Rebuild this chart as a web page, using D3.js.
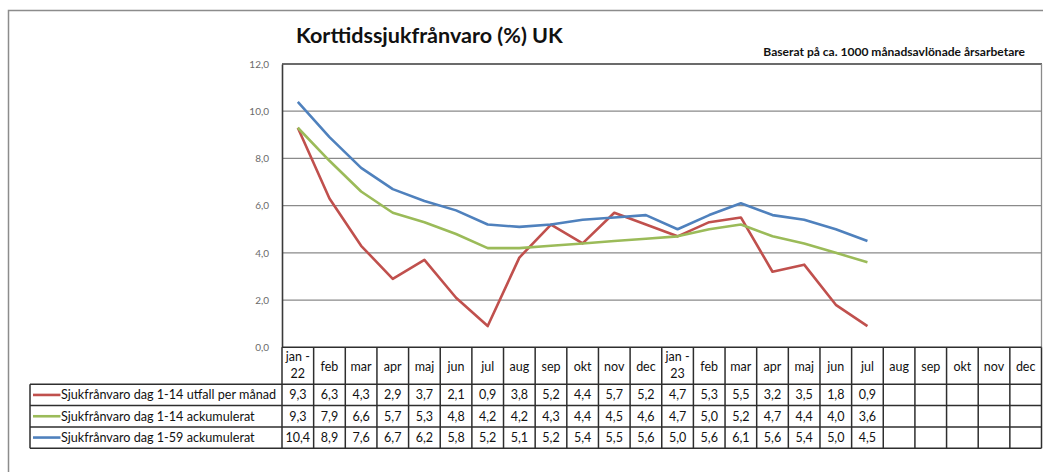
<!DOCTYPE html>
<html>
<head>
<meta charset="utf-8">
<script src="https://cdn.jsdelivr.net/npm/d3@7"></script>
<style>
  html, body { margin: 0; padding: 0; background: #fff; }
  svg { display: block; font-family: Lato, "Open Sans", sans-serif; }
</style>
</head>
<body>
<svg id="chart" width="1043" height="472"></svg>
<script>
// Months shown along the x axis (two rows of text for the year starts)
const months = ["jan -\n22","feb","mar","apr","maj","jun","jul","aug","sep","okt","nov","dec",
                "jan -\n23","feb","mar","apr","maj","jun","jul","aug","sep","okt","nov","dec"];

// Series values (%); null = not yet reported
const utfallPerManad = [9.3,6.3,4.3,2.9,3.7,2.1,0.9,3.8,5.2,4.4,5.7,5.2,4.7,5.3,5.5,3.2,3.5,1.8,0.9,null,null,null,null,null];
const ack114 = [9.3,7.9,6.6,5.7,5.3,4.8,4.2,4.2,4.3,4.4,4.5,4.6,4.7,5.0,5.2,4.7,4.4,4.0,3.6,null,null,null,null,null];
const ack159 = [10.4,8.9,7.6,6.7,6.2,5.8,5.2,5.1,5.2,5.4,5.5,5.6,5.0,5.6,6.1,5.6,5.4,5.0,4.5,null,null,null,null,null];

const seriesNames = ["Sjukfrånvaro dag 1-14 utfall per månad","Sjukfrånvaro dag 1-14 ackumulerat","Sjukfrånvaro dag 1-59 ackumulerat"];
const seriesColors = ["#C0504D","#9BBB59","#4F81BD"];
const yTicks = [0,2,4,6,8,10,12];

const titleText = "Korttidssjukfrånvaro (%) UK";
const subtitleText = "Baserat på ca. 1000 månadsavlönade årsarbetare";

const series = [utfallPerManad, ack114, ack159].map((v, i) => ({ name: seriesNames[i], color: seriesColors[i], values: v }));

const svg = d3.select("#chart");

// layout
const plotLeft = 282, plotRight = 1041.5, plotTop = 64, plotBottom = 347.3;
const legendLeft = 30;
const headerBottom = 384.3;
const rowH = 21.3;

const x = d3.scaleBand().domain(d3.range(months.length)).range([plotLeft, plotRight]).padding(0);
const y = d3.scaleLinear().domain([0, 12]).range([plotBottom, plotTop]);

// helper: scale a text element's font size so that it spans a given width
function fitWidth(sel, target) {
  const node = sel.node();
  const w = node.getComputedTextLength();
  const fs = parseFloat(sel.attr("font-size"));
  sel.attr("font-size", (fs * target / w).toFixed(2));
}

// outer frame (runs past the right and bottom edges)
svg.append("path")
  .attr("d", "M8.5,1000 L8.5,10.5 L1100,10.5")
  .attr("fill", "none").attr("stroke", "#8c8c8c").attr("stroke-width", 1.5);

// title
const title = svg.append("text")
  .attr("x", 296).attr("y", 42.5)
  .attr("font-size", 19).attr("font-weight", "bold").attr("fill", "#111")
  .text(titleText);
fitWidth(title, 267);

const sub = svg.append("text")
  .attr("x", 1025).attr("y", 56)
  .attr("text-anchor", "end")
  .attr("font-size", 10.5).attr("font-weight", "bold").attr("fill", "#111")
  .text(subtitleText);
fitWidth(sub, 262);

// gridlines
svg.append("g").selectAll("line")
  .data(yTicks.filter(t => t > 0 && t < 12))
  .join("line")
  .attr("x1", plotLeft).attr("x2", plotRight)
  .attr("y1", d => y(d)).attr("y2", d => y(d))
  .attr("stroke", "#8a8a8a").attr("stroke-width", 1.3);

// plot border: top and right
svg.append("line")
  .attr("x1", plotLeft).attr("x2", plotRight + 0.5)
  .attr("y1", y(12)).attr("y2", y(12))
  .attr("stroke", "#3a3a3a").attr("stroke-width", 1.6);
svg.append("line")
  .attr("x1", plotRight).attr("x2", plotRight)
  .attr("y1", y(12)).attr("y2", plotBottom)
  .attr("stroke", "#8a8a8a").attr("stroke-width", 1.3);

// y axis
const yAxis = d3.axisLeft(y).tickValues(yTicks).tickSize(0).tickPadding(13)
  .tickFormat(d => d3.format(".1f")(d).replace(".", ","));
const yg = svg.append("g").attr("transform", `translate(${plotLeft},0)`).call(yAxis);
yg.select(".domain").attr("stroke", "#3a3a3a").attr("stroke-width", 1.6);
yg.selectAll("text").attr("font-size", 10).attr("fill", "#6b6b6b").attr("font-family", "Lato, sans-serif");

// lines
const line = d3.line()
  .defined(d => d != null)
  .x((d, i) => x(i) + x.bandwidth() / 2)
  .y(d => y(d));

svg.append("g").selectAll("path")
  .data(series)
  .join("path")
  .attr("fill", "none")
  .attr("stroke", d => d.color)
  .attr("stroke-width", 2.6)
  .attr("stroke-linejoin", "round")
  .attr("stroke-linecap", "butt")
  .attr("d", d => line(d.values));

// data table
const table = svg.append("g");
const tableBottom = headerBottom + rowH * series.length;
const borderColor = "#2e2e2e";

// header cell labels
const hdr = table.append("g").selectAll("text")
  .data(months)
  .join("text")
  .attr("text-anchor", "middle")
  .attr("font-size", 12.5).attr("fill", "#111")
  .attr("x", (d, i) => x(i) + x.bandwidth() / 2);
hdr.each(function(d) {
  const parts = d.split("\n");
  const t = d3.select(this);
  if (parts.length === 1) {
    t.attr("y", 370.5).text(d);
  } else {
    t.attr("y", 361).text(parts[0]);
    t.append("tspan").attr("x", t.attr("x")).attr("dy", 16.5).text(parts[1]);
  }
});

// vertical borders of the month columns
table.append("g").selectAll("line")
  .data(d3.range(months.length + 1))
  .join("line")
  .attr("x1", i => i < months.length ? x(i) : plotRight)
  .attr("x2", i => i < months.length ? x(i) : plotRight)
  .attr("y1", plotBottom).attr("y2", tableBottom)
  .attr("stroke", borderColor).attr("stroke-width", 1.5);

// legend column left border
table.append("line")
  .attr("x1", legendLeft).attr("x2", legendLeft)
  .attr("y1", headerBottom).attr("y2", tableBottom)
  .attr("stroke", borderColor).attr("stroke-width", 1.5);

// horizontal borders
table.append("line")
  .attr("x1", plotLeft).attr("x2", plotRight)
  .attr("y1", plotBottom).attr("y2", plotBottom)
  .attr("stroke", borderColor).attr("stroke-width", 1.5);
table.append("g").selectAll("line")
  .data(d3.range(series.length + 1))
  .join("line")
  .attr("x1", legendLeft).attr("x2", plotRight)
  .attr("y1", i => headerBottom + i * rowH).attr("y2", i => headerBottom + i * rowH)
  .attr("stroke", borderColor).attr("stroke-width", 1.5);

// rows: legend key, name and values
const rows = table.append("g").selectAll("g")
  .data(series)
  .join("g")
  .attr("transform", (d, i) => `translate(0,${headerBottom + i * rowH})`);

rows.append("line")
  .attr("x1", 33).attr("x2", 60.5)
  .attr("y1", rowH / 2).attr("y2", rowH / 2)
  .attr("stroke", d => d.color).attr("stroke-width", 2.6);

const names = rows.append("text")
  .attr("x", 61).attr("y", rowH / 2 + 4.5)
  .attr("font-size", 13).attr("fill", "#111")
  .text(d => d.name);
// keep the legend labels at one common size, fitted to the longest one
const longest = d3.max(names.nodes(), n => n.getComputedTextLength());
names.attr("font-size", (13 * 215 / longest).toFixed(2));

rows.selectAll("text.val")
  .data(d => d.values.map((v, i) => ({ v, i })).filter(e => e.v != null))
  .join("text")
  .attr("class", "val")
  .attr("text-anchor", "middle")
  .attr("x", e => x(e.i) + x.bandwidth() / 2)
  .attr("y", rowH / 2 + 4.5)
  .attr("font-size", 12.5).attr("fill", "#111")
  .text(e => d3.format(".1f")(e.v).replace(".", ","));
</script>
</body>
</html>
